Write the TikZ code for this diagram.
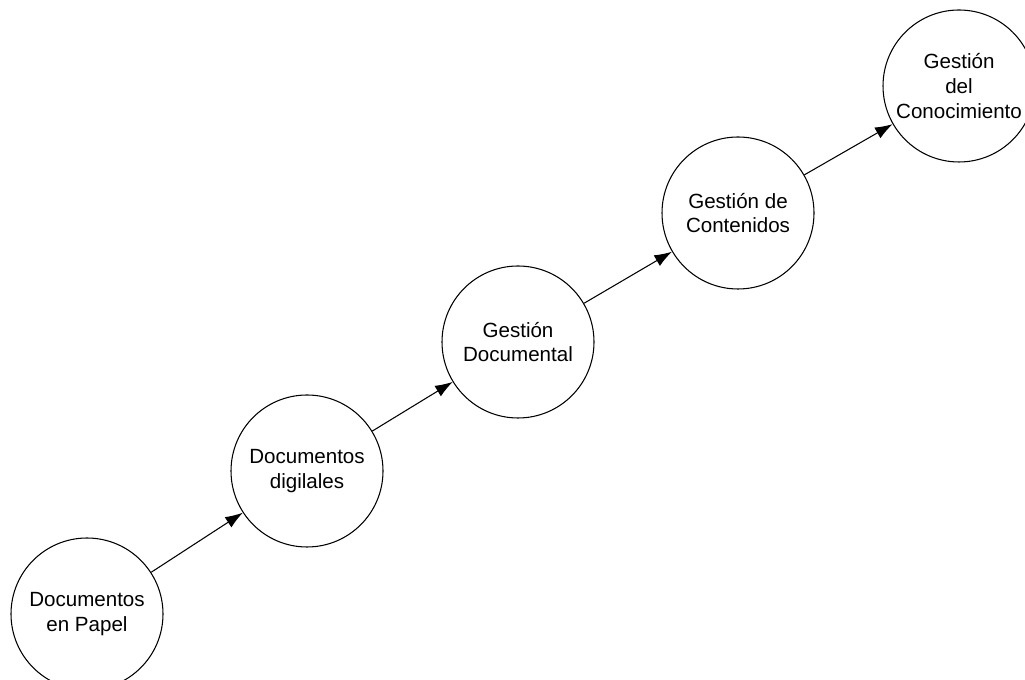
\documentclass[tikz,border=0pt]{standalone}
\usepackage{fontspec}
\setmainfont{Liberation Sans}
\usetikzlibrary{arrows.meta}
\tikzset{
    stage/.style = {draw, circle, line width=0.6pt,
        minimum size=3.04cm, inner sep=0pt, align=center,
        font=\fontsize{11.7}{14}\selectfont},
    arrow/.style = {draw, line width=0.6pt, -{Latex[length=10pt,width=7pt]}}
}

\begin{document}
\begin{tikzpicture}
  \useasboundingbox (0,0) rectangle (20.5,13.6);
  \clip (0,0) rectangle (20.5,13.6);
  \node[stage] (papel)    at (1.74,1.32)   {Documentos\\en Papel};
  \node[stage] (digital)  at (6.14,4.18)   {Documentos\\digilales};
  \node[stage] (gdoc)     at (10.36,6.76)  {Gestión\\Documental};
  \node[stage] (gcont)    at (14.76,9.34)  {Gestión de\\Contenidos};
  \node[stage] (gconoc)   at (19.18,11.88) {Gestión\\del\\Conocimiento};
  \foreach \a/\b in {papel/digital,digital/gdoc,gdoc/gcont,gcont/gconoc}{
    \draw[arrow] (\a) -- (\b);
  };
\end{tikzpicture}
\end{document}
